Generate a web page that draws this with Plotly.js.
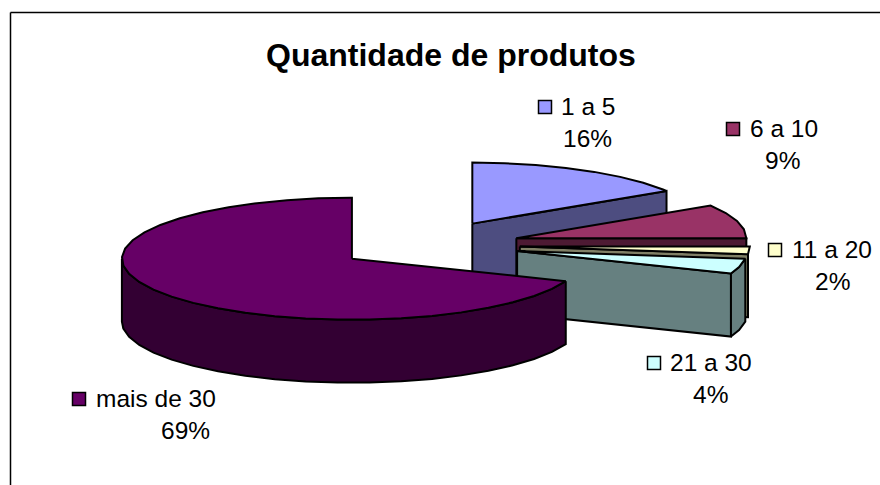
<!DOCTYPE html>
<html>
<head>
<meta charset="utf-8">
<script src="https://cdn.plot.ly/plotly-3.0.1.min.js"></script>
<style>html,body{margin:0;padding:0;background:#fff}#c{width:880px;height:485px}</style>
</head>
<body>
<div id="c"></div>
<script>
// Data
const categories = ["1 a 5", "6 a 10", "11 a 20", "21 a 30", "mais de 30"];
const shares = [16, 9, 2, 4, 69];
const topColors = ["#9999FF", "#993366", "#FFFFCC", "#CCFFFF", "#660066"];
const sideColors = ["#4D4D80", "#4D1A33", "#808066", "#668080", "#330033"];
const chartTitle = "Quantidade de produtos";

// Projection of the tilted pie onto pixel-scaled axes
const centre = {x: 428, y: 245}, rx = 230, ry = 61, depth = 63, explode = 0.40, step = 8;
const font = "Liberation Sans, Arial, sans-serif";

// Label placement: swatch, first-line left edge, percent centre, line centres
const labelPlace = [
  {sw: 545, name: 559, pct: 587, y1: 106, y2: 138},
  {sw: 733, name: 748, pct: 782, y1: 128, y2: 160},
  {sw: 775, name: 790, pct: 832, y1: 249, y2: 281},
  {sw: 654, name: 668, pct: 710, y1: 362, y2: 394},
  {sw: 79,  name: 94,  pct: 185, y1: 398, y2: 430}
];

const rad = d => d * Math.PI / 180;
const total = shares.reduce((a, b) => a + b, 0);
const traces = [];

function poly(pts, color) {
  const xs = pts.map(p => p[0]), ys = pts.map(p => p[1]);
  xs.push(xs[0]); ys.push(ys[0]);
  traces.push({
    type: "scatter", mode: "lines", x: xs, y: ys, fill: "toself", fillcolor: color,
    line: {color: "#000", width: 2, shape: "linear"}, hoverinfo: "skip", showlegend: false
  });
}

let start = 0;
shares.forEach((v, i) => {
  const end = start + v / total * 360, mid = (start + end) / 2;
  const cx = centre.x + explode * rx * Math.sin(rad(mid));
  const cy = centre.y - explode * ry * Math.cos(rad(mid));
  const pt = (a, dz) => [cx + rx * Math.sin(rad(a)), cy - ry * Math.cos(rad(a)) + (dz || 0)];
  const angles = [];
  for (let a = start; a < end; a += step) angles.push(a);
  angles.push(end);

  // radial walls that face the viewer
  if (Math.sin(rad(start)) < -1e-6) {
    poly([[cx, cy], pt(start), pt(start, depth), [cx, cy + depth]], sideColors[i]);
  }
  if (Math.sin(rad(end)) > 1e-6) {
    poly([[cx, cy], pt(end), pt(end, depth), [cx, cy + depth]], sideColors[i]);
  }
  // outer rim, front half only
  const rimAngles = angles.filter(a => Math.cos(rad(a)) <= 0);
  if (start < 90 && end > 90) rimAngles.unshift(90);
  if (start < 270 && end > 270) rimAngles.push(270);
  if (rimAngles.length > 1) {
    const rim = rimAngles.map(a => pt(a)).concat(rimAngles.slice().reverse().map(a => pt(a, depth)));
    poly(rim, sideColors[i]);
  }
  // top face
  poly([[cx, cy]].concat(angles.map(a => pt(a))), topColors[i]);
  start = end;
});

// Label swatches
traces.push({
  type: "scatter", mode: "markers",
  x: labelPlace.map(p => p.sw), y: labelPlace.map(p => p.y1 + 1),
  marker: {symbol: "square", size: 13, color: topColors, line: {color: "#000", width: 1.5}},
  hoverinfo: "skip", showlegend: false
});

const annotations = [{
  text: "<b>" + chartTitle + "</b>", x: 451, y: 55, xref: "x", yref: "y",
  xanchor: "center", yanchor: "middle", showarrow: false, font: {family: font, size: 32, color: "#000"}
}];
categories.forEach((c, i) => {
  const p = labelPlace[i];
  annotations.push({text: c, x: p.name, y: p.y1, xref: "x", yref: "y", xanchor: "left", yanchor: "middle",
    showarrow: false, font: {family: font, size: 24.5, color: "#000"}});
  annotations.push({text: Math.round(shares[i] / total * 100) + "%", x: p.pct, y: p.y2, xref: "x", yref: "y",
    xanchor: "center", yanchor: "middle", showarrow: false, font: {family: font, size: 24.5, color: "#000"}});
});

const layout = {
  width: 880, height: 485, margin: {l: 0, r: 0, t: 0, b: 0},
  paper_bgcolor: "#fff", plot_bgcolor: "#fff", showlegend: false,
  xaxis: {range: [0, 880], visible: false, fixedrange: true},
  yaxis: {range: [485, 0], visible: false, fixedrange: true},
  annotations,
  shapes: [
    {type: "line", xref: "x", yref: "y", x0: 10.5, y0: 12.5, x1: 880, y1: 12.5, line: {color: "#000", width: 1.5}},
    {type: "line", xref: "x", yref: "y", x0: 10.5, y0: 12.5, x1: 10.5, y1: 485, line: {color: "#000", width: 1.5}}
  ]
};
Plotly.newPlot("c", traces, layout, {displayModeBar: false, staticPlot: true});
</script>
</body>
</html>
